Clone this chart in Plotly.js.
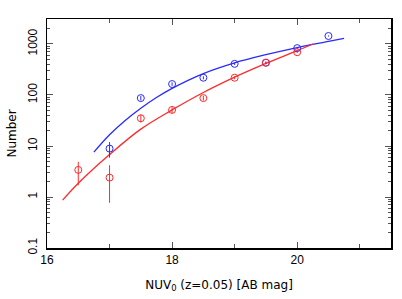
<!DOCTYPE html>
<html><head><meta charset="utf-8">
<script src="https://cdn.plot.ly/plotly-3.0.1.min.js"></script>
<style>html,body{margin:0;padding:0;background:#fff}#chart{width:402px;height:299px}</style>
</head><body><div id="chart"></div>
<script>
// Binned counts
const blueMag = [17.0, 17.5, 18.0, 18.5, 19.0, 19.5, 20.0, 20.5];
const blueN   = [8.9, 87, 164, 218, 408, 430, 830, 1435];
const blueErr = [3, 9, 13, 15, 20, 21, 29, 38];

const redMag = [16.5, 17.0, 17.5, 18.0, 18.5, 19.0, 19.5, 20.0];
const redN   = [3.4, 2.4, 35, 51, 87, 218, 430, 690];
const redErrPlus  = [1.5, 1.8, 6, 7, 9, 15, 21, 26];
const redErrMinus = [1.7, 1.63, 6, 7, 9, 15, 21, 26];

// Fitted curves
const blueFitMag = [16.75, 17.0, 17.25, 17.5, 17.75, 18.0, 18.5, 19.0, 19.5, 20.0, 20.5, 20.75];
const blueFitN   = [7.6, 16.6, 31.6, 55, 89, 135, 263, 427, 617, 851, 1122, 1288];
const redFitMag  = [16.25, 16.5, 17.0, 17.5, 18.0, 18.5, 19.0, 19.5, 20.0, 20.25];
const redFitN    = [0.87, 1.86, 6.8, 21.4, 51, 112, 224, 417, 741, 1000];

const yTickVals = [0.1, 1, 10, 100, 1000];
const yTickText = ['0.1', '1', '10', '100', '1000'];

const BLUE = '#2a2aff', RED = '#ff2a2a';

const traces = [
  {x: blueFitMag, y: blueFitN, mode: 'lines', line: {color: BLUE, width: 1.3, shape: 'spline'}, hoverinfo: 'skip'},
  {x: redFitMag, y: redFitN, mode: 'lines', line: {color: RED, width: 1.3, shape: 'spline'}, hoverinfo: 'skip'},
  {x: blueMag, y: blueN, mode: 'markers',
   marker: {symbol: 'circle-open', size: 7, color: BLUE, line: {width: 1, color: BLUE}},
   error_y: {type: 'data', array: blueErr, color: BLUE, thickness: 1, width: 0}},
  {x: redMag, y: redN, mode: 'markers',
   marker: {symbol: 'circle-open', size: 7, color: RED, line: {width: 1, color: RED}},
   error_y: {type: 'data', symmetric: false, array: redErrPlus, arrayminus: redErrMinus, color: RED, thickness: 1, width: 0}}
];

const tickFont = {family: 'Liberation Sans, Arial, sans-serif', size: 12, color: '#000'};
const titleFont = {family: 'DejaVu Sans, sans-serif', size: 12, color: '#000'};

const layout = {
  width: 402, height: 299,
  margin: {l: 47, r: 11, t: 19, b: 51},
  paper_bgcolor: '#fff', plot_bgcolor: '#fff',
  showlegend: false,
  font: tickFont,
  xaxis: {
    range: [16, 21.5], tickvals: [16, 18, 20], ticktext: ['16', '18', '20'],
    tickfont: tickFont,
    ticks: 'inside', ticklen: 6, tickwidth: 1, tickcolor: '#555',
    minor: {tickvals: [17, 19, 21], ticks: 'inside', ticklen: 4, tickcolor: '#555'},
    showline: true, linecolor: '#000', linewidth: 1.5, mirror: 'allticks',
    showgrid: false, zeroline: false, automargin: false,
    title: {text: 'NUV<sub>0</sub> (z=0.05) [AB mag]', font: titleFont, standoff: 14}
  },
  yaxis: {
    type: 'log', range: [-1, 3.49],
    tickvals: yTickVals, ticktext: yTickText, tickangle: -90, tickfont: tickFont,
    ticklabelstandoff: 4,
    ticks: 'inside', ticklen: 6, tickwidth: 1, tickcolor: '#555',
    minor: {dtick: 'D1', ticks: 'inside', ticklen: 3, tickcolor: '#555'},
    showline: true, linecolor: '#000', linewidth: 1.5, mirror: 'allticks',
    showgrid: false, zeroline: false, automargin: false,
    title: {text: 'Number', font: titleFont, standoff: 6}
  }
};

Plotly.newPlot('chart', traces, layout, {staticPlot: true, displayModeBar: false});
</script></body></html>
